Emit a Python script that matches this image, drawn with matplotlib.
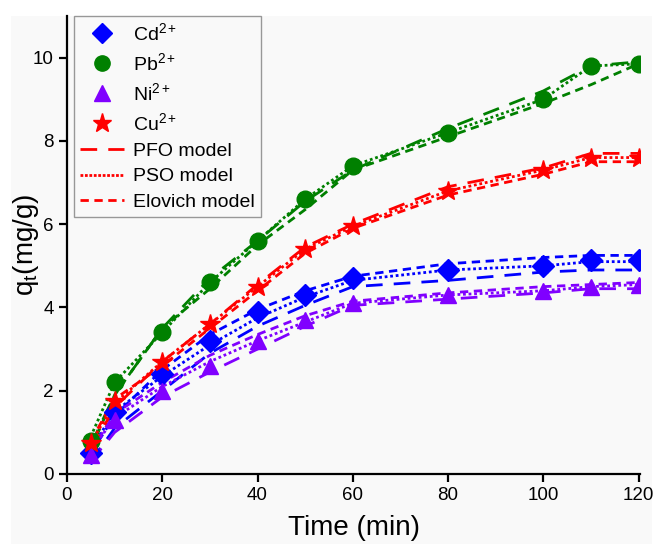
import numpy as np
import matplotlib
matplotlib.use('Agg')
from matplotlib import pyplot as plt
from matplotlib.lines import Line2D
from matplotlib.patches import Rectangle

plt.rcParams['font.family'] = ['Liberation Sans', 'DejaVu Sans']
plt.rcParams['mathtext.fontset'] = 'custom'
plt.rcParams['mathtext.rm'] = 'Liberation Sans'
plt.rcParams['mathtext.it'] = 'Liberation Sans'

# contact time (min)
t = [5, 10, 20, 30, 40, 50, 60, 80, 100, 110, 120]

# experimental q_t (mg/g)
cd_exp = [0.5, 1.5, 2.4, 3.2, 3.9, 4.3, 4.7, 4.9, 5.0, 5.15, 5.15]
pb_exp = [0.8, 2.2, 3.4, 4.6, 5.6, 6.6, 7.4, 8.2, 9.0, 9.8, 9.85]
ni_exp = [0.45, 1.3, 2.0, 2.6, 3.2, 3.7, 4.1, 4.3, 4.4, 4.5, 4.55]
cu_exp = [0.75, 1.75, 2.7, 3.6, 4.5, 5.4, 5.95, 6.8, 7.3, 7.6, 7.6]

# model curves
cd_pfo = [0.3, 1.1, 2.0, 2.9, 3.55, 4.05, 4.5, 4.65, 4.85, 4.9, 4.9]
cd_pso = [0.6, 1.5, 2.35, 3.1, 3.75, 4.25, 4.65, 4.9, 5.0, 5.1, 5.1]
cd_elo = [0.5, 1.4, 2.5, 3.35, 3.95, 4.4, 4.75, 5.05, 5.2, 5.25, 5.25]

pb_pfo = [0.7, 1.9, 3.5, 4.7, 5.6, 6.55, 7.3, 8.3, 9.2, 9.8, 9.9]
pb_pso = [0.9, 2.2, 3.4, 4.6, 5.6, 6.6, 7.4, 8.2, 9.0, 9.8, 9.85]
pb_elo = [0.6, 1.9, 3.5, 4.45, 5.5, 6.35, 7.3, 8.1, 8.9, 9.35, 9.85]

ni_pfo = [0.3, 1.0, 1.85, 2.45, 3.0, 3.55, 4.05, 4.2, 4.35, 4.45, 4.45]
ni_pso = [0.55, 1.35, 2.1, 2.7, 3.2, 3.65, 4.1, 4.3, 4.4, 4.5, 4.55]
ni_elo = [0.55, 1.45, 2.2, 2.85, 3.35, 3.8, 4.15, 4.35, 4.5, 4.55, 4.6]

cu_pfo = [0.6, 1.6, 2.7, 3.6, 4.55, 5.45, 6.0, 6.9, 7.35, 7.7, 7.7]
cu_pso = [0.75, 1.7, 2.7, 3.6, 4.5, 5.4, 5.95, 6.8, 7.3, 7.6, 7.6]
cu_elo = [0.8, 1.8, 2.6, 3.5, 4.4, 5.3, 5.9, 6.7, 7.2, 7.5, 7.5]

ions = ['Cd$^{2+}$', 'Pb$^{2+}$', 'Ni$^{2+}$', 'Cu$^{2+}$']
colors = ['#0000ff', '#008000', '#8000ff', '#ff0000']
markers = ['D', 'o', '^', '*']
msizes = [11, 12, 12, 15]

exp = [cd_exp, pb_exp, ni_exp, cu_exp]
pfo = [cd_pfo, pb_pfo, ni_pfo, cu_pfo]
pso = [cd_pso, pb_pso, ni_pso, cu_pso]
elo = [cd_elo, pb_elo, ni_elo, cu_elo]

ls_pfo = (0, (6, 4))
ls_pso = (0, (1, 1))
ls_elo = (0, (3, 2))

fig = plt.figure(figsize=(6.54, 5.44), dpi=100)
fig.patches.append(Rectangle((11/654, 0), 641/654, 528/544, transform=fig.transFigure,
                             facecolor='#f9f9f9', edgecolor='none', zorder=-10))
ax = fig.add_axes([67/654, 70/544, 573/654, 458/544])
ax.set_facecolor('#f9f9f9')

for i in range(4):
    c = colors[i]
    ax.plot(t, pfo[i], color=c, lw=2, ls=ls_pfo)
    ax.plot(t, pso[i], color=c, lw=2, ls=ls_pso)
    ax.plot(t, elo[i], color=c, lw=2, ls=ls_elo)
for i in range(4):
    ax.plot(t, exp[i], ls='none', marker=markers[i], ms=msizes[i],
            color=colors[i], mec=colors[i], zorder=5)

ax.set_xlim(0, 120.3)
ax.set_ylim(0, 11)
ax.set_xticks(np.arange(0, 121, 20))
ax.set_yticks(np.arange(0, 11, 2))
for s in ['top', 'right']:
    ax.spines[s].set_visible(False)
for s in ['left', 'bottom']:
    ax.spines[s].set_linewidth(1.6)
ax.tick_params(direction='out', length=6, width=1.6, labelsize=13.5)
ax.set_xlabel('Time (min)', fontsize=20, labelpad=8)
ax.set_ylabel('q$_\\mathregular{t}$(mg/g)', fontsize=20)
ax.yaxis.set_label_coords(-0.046, 0.5)

handles = []
for i in range(4):
    handles.append(Line2D([], [], ls='none', marker=markers[i], ms=msizes[i] - 1,
                          color=colors[i], label=ions[i]))
handles.append(Line2D([], [], color='red', lw=2, ls=ls_pfo, label='PFO model'))
handles.append(Line2D([], [], color='red', lw=2, ls=(0, (1, 0.6)), label='PSO model'))
handles.append(Line2D([], [], color='red', lw=2, ls=ls_elo, label='Elovich model'))
leg = ax.legend(handles=handles, loc='upper left', bbox_to_anchor=(0.012, 1.0),
                fontsize=14, frameon=True, fancybox=False, handlelength=2.3,
                handletextpad=0.45, labelspacing=0.42, borderpad=0.3, borderaxespad=0)
leg.get_frame().set_edgecolor('#808080')
leg.get_frame().set_facecolor('#f9f9f9')
leg.get_frame().set_linewidth(1.0)

fig.savefig('out.png', dpi=100, facecolor='white')
